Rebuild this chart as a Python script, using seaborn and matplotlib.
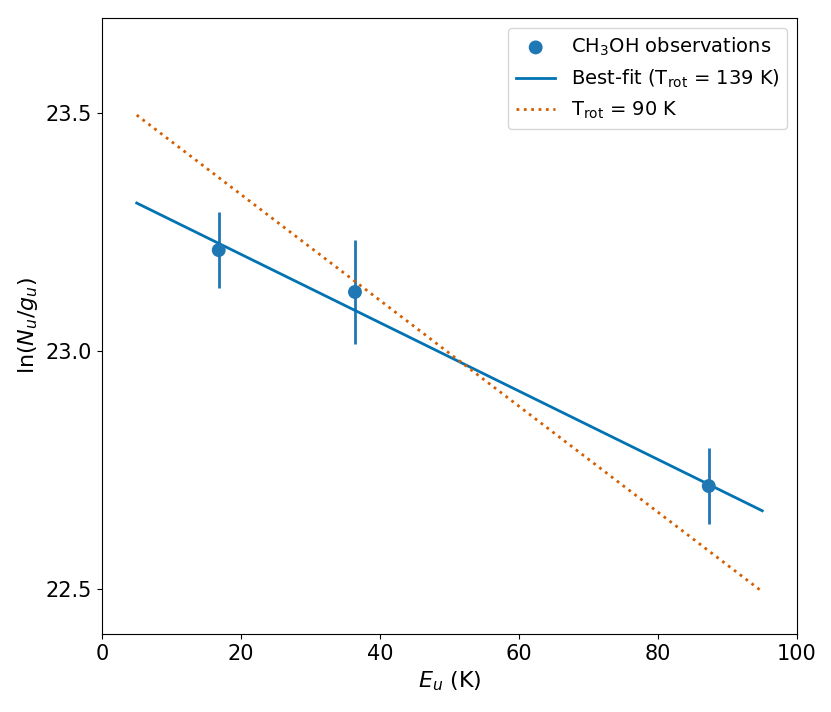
import numpy as np
import pandas as pd
import matplotlib
matplotlib.use("Agg")
import matplotlib.pyplot as plt
import seaborn as sns

# observed upper-state energies and column densities
e_up = [16.8, 36.4, 87.3]
ln_nu_gu = [23.212, 23.124, 22.716]
ln_err = [0.08, 0.11, 0.08]

# model lines (endpoints)
fit_x = [5, 95]
fit_y = [23.311, 22.664]
t90_x = [5, 95]
t90_y = [23.496, 22.494]

obs = pd.DataFrame({"E_u": e_up, "lnN": ln_nu_gu})
fit = pd.DataFrame({"E_u": fit_x, "lnN": fit_y})
t90 = pd.DataFrame({"E_u": t90_x, "lnN": t90_y})

pt_color = "#1f77b4"
fit_color = "#0173b2"
t90_color = "#d55e00"

fig = plt.figure(figsize=(8.31, 7.12), dpi=100)
ax = fig.add_axes([0.1227, 0.1096, 0.8364, 0.8651])

ax.errorbar(e_up, ln_nu_gu, yerr=ln_err, fmt="none", ecolor=pt_color, elinewidth=2)
sns.scatterplot(data=obs, x="E_u", y="lnN", ax=ax, color=pt_color, s=100,
                edgecolor="none", label=r"CH$_3$OH observations", zorder=3)
sns.lineplot(data=fit, x="E_u", y="lnN", ax=ax, color=fit_color, lw=2,
             label=r"Best-fit (T$_{\rm rot}$ = 139 K)")
sns.lineplot(data=t90, x="E_u", y="lnN", ax=ax, color=t90_color, lw=2,
             linestyle=":", label=r"T$_{\rm rot}$ = 90 K")

ax.set_xlim(0, 100)
ax.set_ylim(22.405, 23.7)
ax.set_yticks([22.5, 23.0, 23.5])
ax.tick_params(labelsize=15)
ax.set_xlabel(r"$E_u$ (K)", fontsize=16)
ax.set_ylabel(r"ln($N_u$/$g_u$)", fontsize=16)
ax.legend(loc="upper right", fontsize=14)

fig.savefig("out.png", dpi=100)
